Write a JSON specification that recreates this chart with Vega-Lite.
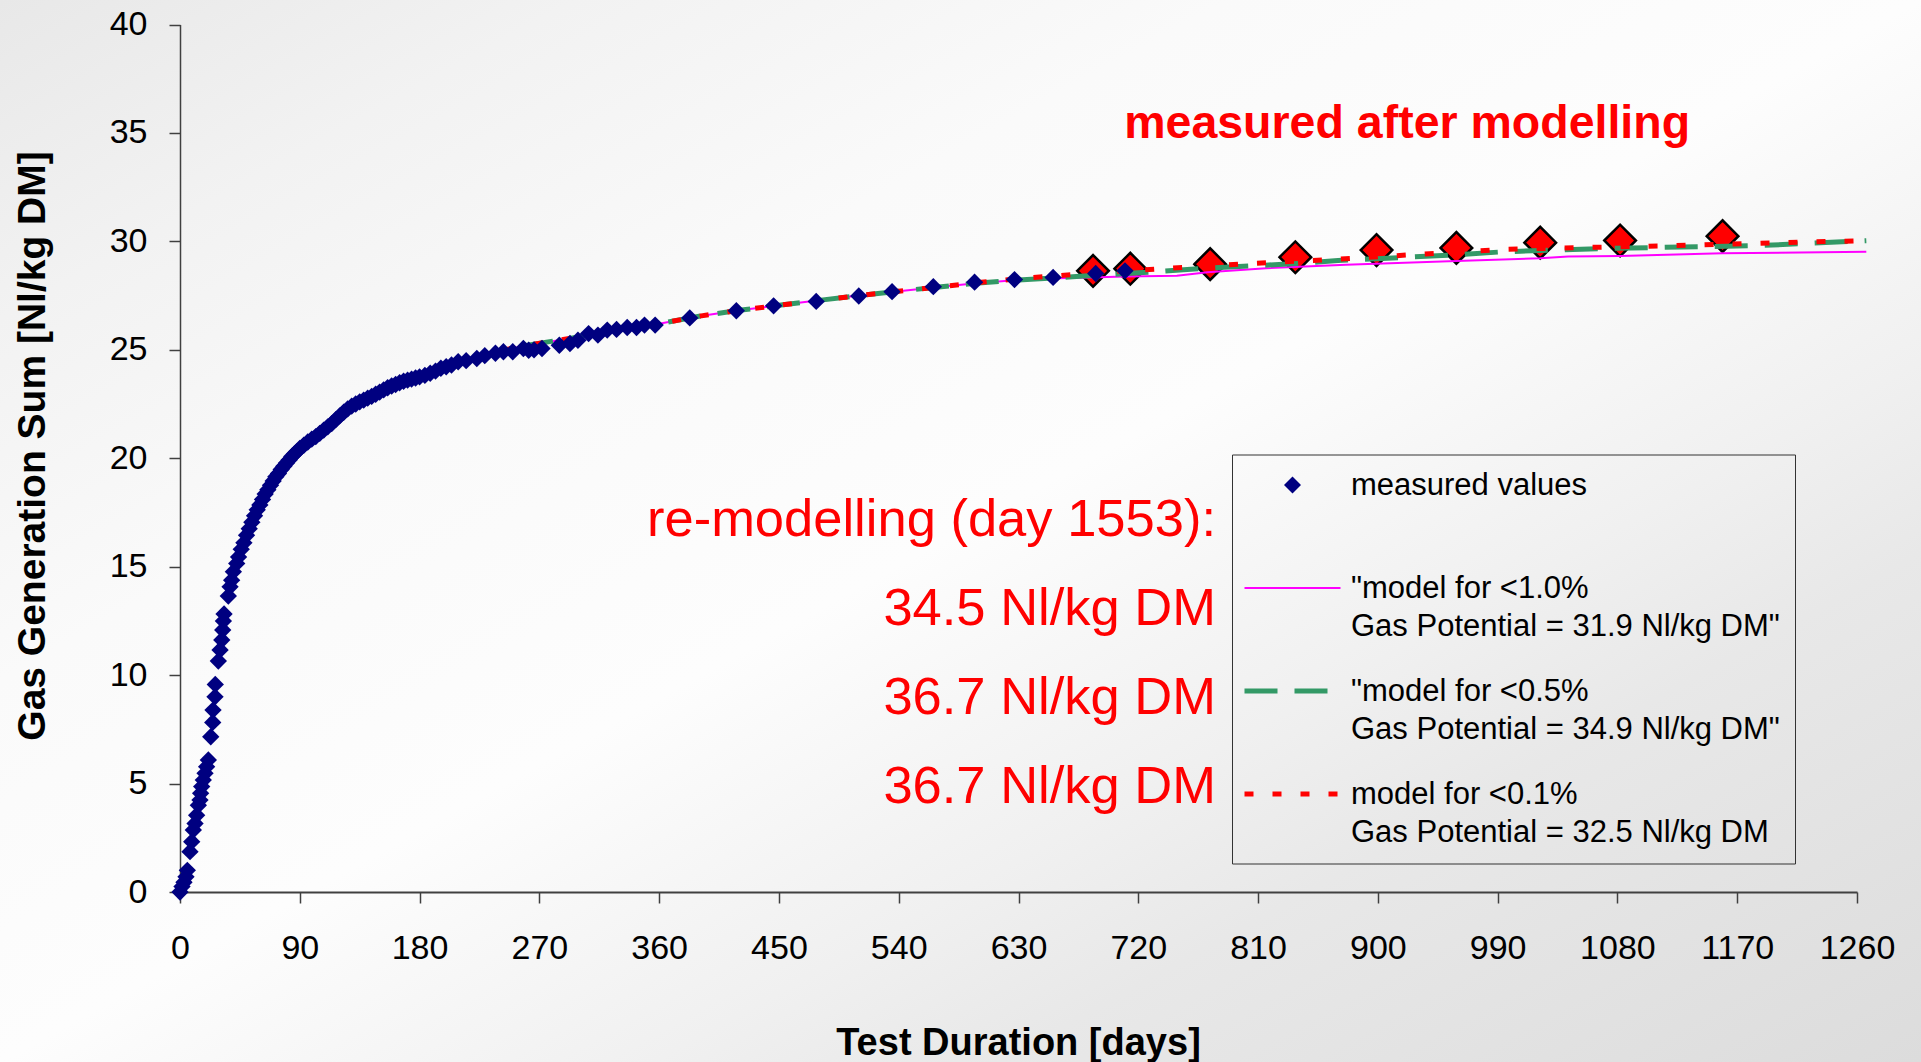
{
  "$schema": "https://vega.github.io/schema/vega-lite/v6.json",
  "width": 1921,
  "height": 1062,
  "autosize": {"type": "none"},
  "padding": 0,
  "background": "#f1f1f1",
  "datasets": {
    "measured": [
      {"day":0,"gas":0},{"day":1.5,"gas":0.25},{"day":3,"gas":0.45},{"day":4.5,"gas":0.7},{"day":5.5,"gas":1.0},{"day":7.5,"gas":1.86},{"day":8.8,"gas":2.32},{"day":10,"gas":2.86},{"day":11.3,"gas":3.16},{"day":12.5,"gas":3.54},{"day":13.8,"gas":4.0},{"day":15,"gas":4.24},{"day":15.5,"gas":4.55},{"day":16.3,"gas":4.86},{"day":17.5,"gas":5.16},{"day":18.8,"gas":5.47},{"day":20,"gas":5.78},{"day":21.3,"gas":6.09},{"day":23.1,"gas":7.16},{"day":24.6,"gas":7.82},{"day":24.8,"gas":8.39},{"day":26.3,"gas":9.0},{"day":26.5,"gas":9.57},{"day":28.8,"gas":10.65},{"day":30.1,"gas":11.16},{"day":31.4,"gas":11.62},{"day":32.1,"gas":12.08},{"day":32.6,"gas":12.49},{"day":33.1,"gas":12.82},{"day":36.3,"gas":13.65},{"day":37.6,"gas":14.07},{"day":38.8,"gas":14.38},{"day":40.1,"gas":14.77},{"day":42.6,"gas":15.15},{"day":44,"gas":15.45},{"day":46,"gas":15.8},{"day":48,"gas":16.1},{"day":50,"gas":16.45},{"day":52,"gas":16.75},{"day":54,"gas":17.05},{"day":56,"gas":17.35},{"day":58,"gas":17.62},{"day":60,"gas":17.85},{"day":62,"gas":18.1},{"day":64,"gas":18.35},{"day":66,"gas":18.55},{"day":68,"gas":18.75},{"day":70,"gas":18.95},{"day":72,"gas":19.15},{"day":74,"gas":19.3},{"day":76,"gas":19.48},{"day":78,"gas":19.63},{"day":80,"gas":19.78},{"day":82,"gas":19.92},{"day":84,"gas":20.08},{"day":86,"gas":20.2},{"day":88,"gas":20.32},{"day":90,"gas":20.45},{"day":93,"gas":20.6},{"day":96,"gas":20.75},{"day":99,"gas":20.88},{"day":102,"gas":21.0},{"day":105,"gas":21.15},{"day":108,"gas":21.3},{"day":111,"gas":21.45},{"day":114,"gas":21.6},{"day":117,"gas":21.78},{"day":120,"gas":21.95},{"day":123,"gas":22.12},{"day":126,"gas":22.28},{"day":129,"gas":22.4},{"day":132,"gas":22.5},{"day":135,"gas":22.6},{"day":138,"gas":22.68},{"day":141,"gas":22.77},{"day":144,"gas":22.85},{"day":147,"gas":22.95},{"day":150,"gas":23.05},{"day":153,"gas":23.15},{"day":156,"gas":23.25},{"day":159,"gas":23.33},{"day":162,"gas":23.4},{"day":165,"gas":23.48},{"day":168,"gas":23.55},{"day":171,"gas":23.6},{"day":174,"gas":23.65},{"day":177,"gas":23.7},{"day":180,"gas":23.75},{"day":184,"gas":23.82},{"day":188,"gas":23.92},{"day":192,"gas":24.02},{"day":196,"gas":24.15},{"day":200,"gas":24.22},{"day":204,"gas":24.3},{"day":209,"gas":24.45},{"day":215,"gas":24.5},{"day":223,"gas":24.6},{"day":229,"gas":24.73},{"day":237,"gas":24.84},{"day":243,"gas":24.91},{"day":250,"gas":24.91},{"day":258,"gas":25.06},{"day":262,"gas":24.98},{"day":266,"gas":25.0},{"day":272,"gas":25.06},{"day":285,"gas":25.21},{"day":293,"gas":25.29},{"day":299,"gas":25.44},{"day":307,"gas":25.75},{"day":314,"gas":25.68},{"day":321,"gas":25.91},{"day":328,"gas":25.94},{"day":336,"gas":26.03},{"day":343,"gas":26.03},{"day":349,"gas":26.14},{"day":357,"gas":26.14},{"day":383,"gas":26.47},{"day":418,"gas":26.8},{"day":446,"gas":27.03},{"day":478,"gas":27.23},{"day":510,"gas":27.48},{"day":535,"gas":27.68},{"day":566,"gas":27.91},{"day":597,"gas":28.12},{"day":627,"gas":28.24},{"day":656,"gas":28.34},{"day":688,"gas":28.52},{"day":710,"gas":28.64}
    ],
    "after": [
      {"day":686,"gas":28.64},{"day":714,"gas":28.74},{"day":774,"gas":28.95},{"day":838,"gas":29.27},{"day":899,"gas":29.6},{"day":959,"gas":29.7},{"day":1022,"gas":29.94},{"day":1082,"gas":30.04},{"day":1159,"gas":30.24}
    ],
    "models": [
      {"series":"m10","day":50,"gas":16.4},{"series":"m10","day":60,"gas":17.85},{"series":"m10","day":70,"gas":18.95},{"series":"m10","day":80,"gas":19.8},{"series":"m10","day":90,"gas":20.45},{"series":"m10","day":100,"gas":20.95},{"series":"m10","day":120,"gas":21.95},{"series":"m10","day":140,"gas":22.75},{"series":"m10","day":160,"gas":23.38},{"series":"m10","day":180,"gas":23.8},{"series":"m10","day":200,"gas":24.25},{"series":"m10","day":220,"gas":24.6},{"series":"m10","day":240,"gas":24.95},{"series":"m10","day":260,"gas":25.2},{"series":"m10","day":280,"gas":25.4},{"series":"m10","day":300,"gas":25.6},{"series":"m10","day":320,"gas":25.85},{"series":"m10","day":340,"gas":26.05},{"series":"m10","day":360,"gas":26.2},{"series":"m10","day":390,"gas":26.55},{"series":"m10","day":420,"gas":26.82},{"series":"m10","day":450,"gas":27.05},{"series":"m10","day":480,"gas":27.28},{"series":"m10","day":510,"gas":27.5},{"series":"m10","day":540,"gas":27.7},{"series":"m10","day":570,"gas":27.9},{"series":"m10","day":600,"gas":28.08},{"series":"m10","day":630,"gas":28.22},{"series":"m10","day":660,"gas":28.3},{"series":"m10","day":690,"gas":28.35},{"series":"m10","day":710,"gas":28.38},{"series":"m10","day":749,"gas":28.42},{"series":"m10","day":772,"gas":28.58},{"series":"m10","day":816,"gas":28.76},{"series":"m10","day":876,"gas":28.92},{"series":"m10","day":959,"gas":29.1},{"series":"m10","day":1022,"gas":29.22},{"series":"m10","day":1043,"gas":29.3},{"series":"m10","day":1082,"gas":29.33},{"series":"m10","day":1159,"gas":29.45},{"series":"m10","day":1267,"gas":29.52},
      {"series":"m05","day":50,"gas":16.4},{"series":"m05","day":60,"gas":17.85},{"series":"m05","day":70,"gas":18.95},{"series":"m05","day":80,"gas":19.8},{"series":"m05","day":90,"gas":20.45},{"series":"m05","day":100,"gas":20.95},{"series":"m05","day":120,"gas":21.95},{"series":"m05","day":140,"gas":22.75},{"series":"m05","day":160,"gas":23.38},{"series":"m05","day":180,"gas":23.8},{"series":"m05","day":200,"gas":24.25},{"series":"m05","day":220,"gas":24.6},{"series":"m05","day":240,"gas":24.95},{"series":"m05","day":260,"gas":25.2},{"series":"m05","day":280,"gas":25.4},{"series":"m05","day":300,"gas":25.6},{"series":"m05","day":320,"gas":25.85},{"series":"m05","day":340,"gas":26.05},{"series":"m05","day":360,"gas":26.2},{"series":"m05","day":390,"gas":26.55},{"series":"m05","day":420,"gas":26.82},{"series":"m05","day":450,"gas":27.05},{"series":"m05","day":480,"gas":27.28},{"series":"m05","day":510,"gas":27.5},{"series":"m05","day":540,"gas":27.7},{"series":"m05","day":570,"gas":27.9},{"series":"m05","day":600,"gas":28.08},{"series":"m05","day":630,"gas":28.22},{"series":"m05","day":660,"gas":28.33},{"series":"m05","day":679,"gas":28.4},{"series":"m05","day":720,"gas":28.55},{"series":"m05","day":769,"gas":28.75},{"series":"m05","day":839,"gas":28.98},{"series":"m05","day":870,"gas":29.12},{"series":"m05","day":899,"gas":29.2},{"series":"m05","day":959,"gas":29.38},{"series":"m05","day":994,"gas":29.52},{"series":"m05","day":1070,"gas":29.67},{"series":"m05","day":1188,"gas":29.81},{"series":"m05","day":1267,"gas":30.03},
      {"series":"m01","day":50,"gas":16.4},{"series":"m01","day":60,"gas":17.85},{"series":"m01","day":70,"gas":18.95},{"series":"m01","day":80,"gas":19.8},{"series":"m01","day":90,"gas":20.45},{"series":"m01","day":100,"gas":20.95},{"series":"m01","day":120,"gas":21.95},{"series":"m01","day":140,"gas":22.75},{"series":"m01","day":160,"gas":23.38},{"series":"m01","day":180,"gas":23.8},{"series":"m01","day":200,"gas":24.25},{"series":"m01","day":220,"gas":24.6},{"series":"m01","day":240,"gas":24.95},{"series":"m01","day":260,"gas":25.2},{"series":"m01","day":280,"gas":25.4},{"series":"m01","day":300,"gas":25.6},{"series":"m01","day":320,"gas":25.85},{"series":"m01","day":340,"gas":26.05},{"series":"m01","day":360,"gas":26.2},{"series":"m01","day":390,"gas":26.55},{"series":"m01","day":420,"gas":26.82},{"series":"m01","day":450,"gas":27.05},{"series":"m01","day":480,"gas":27.28},{"series":"m01","day":510,"gas":27.5},{"series":"m01","day":540,"gas":27.7},{"series":"m01","day":570,"gas":27.9},{"series":"m01","day":600,"gas":28.1},{"series":"m01","day":630,"gas":28.28},{"series":"m01","day":660,"gas":28.42},{"series":"m01","day":699,"gas":28.6},{"series":"m01","day":741,"gas":28.75},{"series":"m01","day":804,"gas":28.98},{"series":"m01","day":867,"gas":29.17},{"series":"m01","day":930,"gas":29.4},{"series":"m01","day":994,"gas":29.63},{"series":"m01","day":1057,"gas":29.72},{"series":"m01","day":1122,"gas":29.8},{"series":"m01","day":1207,"gas":29.95},{"series":"m01","day":1267,"gas":30.03}
    ],
    "heading": [
      {"day": 922, "gas": 34.76, "text": "measured after modelling"}
    ],
    "remodel": [
      {"day": 778.4, "gas": 16.43, "text": "re-modelling (day 1553):"},
      {"day": 778.4, "gas": 12.29, "text": "34.5 Nl/kg DM"},
      {"day": 778.4, "gas": 8.21, "text": "36.7 Nl/kg DM"},
      {"day": 778.4, "gas": 4.11, "text": "36.7 Nl/kg DM"}
    ]
  },
  "encoding": {
    "x": {
      "field": "day",
      "type": "quantitative",
      "scale": {"domain": [0, 1260], "range": [180, 1857], "nice": false, "zero": false},
      "axis": {
        "title": "Test Duration [days]",
        "values": [0, 90, 180, 270, 360, 450, 540, 630, 720, 810, 900, 990, 1080, 1170, 1260],
        "format": "d",
        "offset": -170,
        "grid": false,
        "tickSize": 11,
        "tickColor": "#404040",
        "tickWidth": 1.5,
        "domainColor": "#404040",
        "domainWidth": 2,
        "labelFont": "Liberation Sans",
        "labelFontSize": 34,
        "labelColor": "#000000",
        "labelPadding": 28,
        "labelFlush": false,
        "labelOverlap": false,
        "titleFont": "Liberation Sans",
        "titleFontSize": 38,
        "titleFontWeight": "bold",
        "titleColor": "#000000",
        "titleX": 1018,
        "titleAlign": "center",
        "titleY": 162.5,
        "titleBaseline": "alphabetic"
      }
    },
    "y": {
      "field": "gas",
      "type": "quantitative",
      "scale": {"domain": [0, 40], "range": [892, 24.5], "nice": false},
      "axis": {
        "title": "Gas Generation Sum [Nl/kg DM]",
        "values": [0, 5, 10, 15, 20, 25, 30, 35, 40],
        "offset": -180,
        "grid": false,
        "tickSize": 11,
        "tickColor": "#404040",
        "tickWidth": 1.5,
        "domainColor": "#404040",
        "domainWidth": 1.5,
        "labelFont": "Liberation Sans",
        "labelFontSize": 34,
        "labelColor": "#000000",
        "labelPadding": 22,
        "labelFlush": false,
        "labelOverlap": false,
        "titleFont": "Liberation Sans",
        "titleFontSize": 39,
        "titleFontWeight": "bold",
        "titleColor": "#000000",
        "titleAngle": 270,
        "titleAlign": "center",
        "titleBaseline": "alphabetic",
        "titleX": -136,
        "titleY": 445.5
      }
    }
  },
  "layer": [
    {
      "data": {"name": "after"},
      "mark": {"type": "point", "shape": "diamond", "filled": true, "size": 1000, "fill": "#ff0000", "stroke": "#000000", "strokeWidth": 2.5, "opacity": 1}
    },
    {
      "data": {"name": "models"},
      "transform": [{"filter": "datum.series === 'm10'"}],
      "mark": {"type": "line", "color": "#ff00ff", "strokeWidth": 2}
    },
    {
      "data": {"name": "models"},
      "transform": [{"filter": "datum.series !== 'm10'"}],
      "mark": {"type": "line", "strokeWidth": 5},
      "encoding": {
        "color": {
          "field": "series",
          "type": "nominal",
          "scale": {"domain": ["measured", "m10", "m05", "m01"], "range": ["#000080", "#ff00ff", "#339966", "#ff0000"]},
          "legend": {
            "title": null,
            "orient": "none",
            "legendX": 1232,
            "legendY": 454.5,
            "columns": 1,
            "padding": 15,
            "strokeColor": "#333333",
            "symbolType": "stroke",
            "symbolSize": 1024,
            "symbolStrokeWidth": 5,
            "symbolOffset": 30,
            "labelFont": "Liberation Sans",
            "labelFontSize": 31,
            "labelColor": "#000000",
            "labelLimit": 1000,
            "labelBaseline": "top",
            "labelOffset": 43,
            "rowPadding": 33,
            "labelExpr": "datum.value === 'measured' ? ['measured values', ' '] : datum.value === 'm10' ? ['\"model for <1.0%', 'Gas Potential = 31.9 Nl/kg DM\"'] : datum.value === 'm05' ? ['\"model for <0.5%', 'Gas Potential = 34.9 Nl/kg DM\"'] : ['model for <0.1%', 'Gas Potential = 32.5 Nl/kg DM']",
            "encode": {
              "symbols": {
                "update": {
                  "shape": {"signal": "datum.value === 'measured' ? 'M0,-0.53L0.53,0L0,0.53L-0.53,0Z' : datum.value === 'm10' ? 'M-3,-0.066L3,-0.066L3,0.066L-3,0.066Z' : 'M-3,0L3,0'"},
                  "fill": {"signal": "datum.value === 'measured' ? '#000080' : datum.value === 'm10' ? '#ff00ff' : 'transparent'"},
                  "strokeWidth": {"signal": "datum.value === 'measured' || datum.value === 'm10' ? 0 : 5"},
                  "strokeDash": {"signal": "datum.value === 'm05' ? [33, 17] : datum.value === 'm01' ? [9, 19] : [1, 0]"},
                  "opacity": {"value": 1}
                }
              },
              "labels": {
                "update": {
                  "lineHeight": {"value": 38},
                  "dy": {"value": -14}
                }
              }
            }
          }
        },
        "strokeDash": {
          "field": "series",
          "type": "nominal",
          "scale": {"domain": ["m05", "m01"], "range": [[33, 17], [9, 19]]},
          "legend": null
        }
      }
    },
    {
      "data": {"name": "measured"},
      "mark": {"type": "point", "shape": "diamond", "filled": true, "size": 300, "color": "#000080", "opacity": 1}
    },
    {
      "data": {"name": "heading"},
      "mark": {"type": "text", "align": "center", "baseline": "alphabetic", "font": "Liberation Sans", "fontSize": 46.5, "fontWeight": "bold", "color": "#ff0000"},
      "encoding": {"text": {"field": "text"}}
    },
    {
      "data": {"name": "remodel"},
      "mark": {"type": "text", "align": "right", "baseline": "alphabetic", "font": "Liberation Sans", "fontSize": 52.5, "color": "#ff0000"},
      "encoding": {"text": {"field": "text"}}
    }
  ],
  "config": {
    "view": {
      "stroke": null,
      "fill": {"gradient": "linear", "x1": 0, "y1": 0, "x2": 1, "y2": 1, "stops": [{"offset": 0, "color": "#e8e8e8"}, {"offset": 0.15, "color": "#f2f2f2"}, {"offset": 0.32, "color": "#fafafa"}, {"offset": 0.5, "color": "#fdfdfd"}, {"offset": 0.67, "color": "#f0f0f0"}, {"offset": 0.76, "color": "#e8e8e8"}, {"offset": 1, "color": "#dcdcdc"}]}
    }
  }
}
